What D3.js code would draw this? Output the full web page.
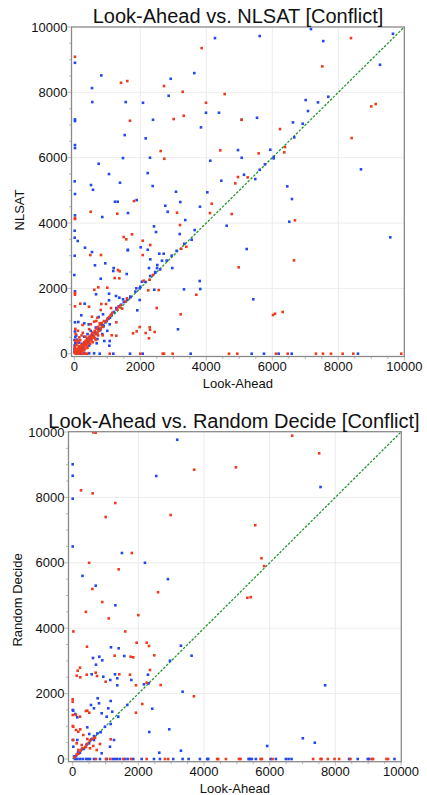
<!DOCTYPE html>
<html><head><meta charset="utf-8">
<script src="https://cdn.jsdelivr.net/npm/d3@7"></script>
<style>body{margin:0;background:#fff}svg{display:block}</style>
</head><body>
<svg id="c" width="427" height="795"></svg>
<script>
const ticks = [0, 2000, 4000, 6000, 8000, 10000];
const gridVals = [2000, 4000, 6000, 8000];

// Chart 1: Look-Ahead vs NLSAT
const title1 = "Look-Ahead vs. NLSAT [Conflict]";
const xLabel1 = "Look-Ahead";
const yLabel1 = "NLSAT";
const topRed = [
[20,9088],[1415,8293],[1606,8345],[1688,7130],[2718,8192],[3284,8017],[3012,7182],[3315,7283],[3860,9354],[4557,7947],[3990,7681],
[8384,9661],[7514,8794],[8999,7570],[9133,7641],[5072,7160],[6233,6876],[8405,6600],
[2618,6203],[2727,5967],[1809,4673],[4163,4590],[497,4345],[1303,4284],[20,4153],[20,4122],[3112,4315],[4112,4305],[4769,4275],[4424,6224],[4960,5407],[4878,5214],[3203,3938],[3394,3274],[1497,3571],[1748,3654],[1576,3501],[2073,3458],[2303,3326],
[5587,6132],[6384,6325],[6363,6163],[5254,5398],[6687,4082],
[485,3020],[809,3020],[2073,3020],[3242,3213],[4981,2644],[1324,2561],[1376,2521],[1224,2316],[1364,2307],[2385,2408],[2285,2264],[2103,2234],[2242,1940],[2557,1949],[3697,1805],[606,1958],[727,2032],[1000,2020],[20,1858],[20,1807],[1597,1695],[2497,1398],[3224,1205],[182,1530],[445,1438],[818,1521],[961,1521],[800,1337],[1112,1398],[1345,1429],[536,1132],[20,1450],[667,1001],[770,930],[1273,961],[1779,624],[1891,685],[1982,817],[2285,808],[2294,734],[2163,633],[2263,471],[2436,664],[1273,551],[1133,563],[860,563],
[385,0],[1073,0],[2000,0],[2679,0],[2718,0],[2981,0],[4688,0],[4939,0],
[6657,2858],[6021,1184],[6081,1224],[6314,1276],[6112,0],[6466,0],[7323,0],[7536,0],[7778,0],[8132,0],[8454,0],[9908,0],
[30,20],[50,80],[80,40],[100,120],[120,90],[150,160],[160,60],[180,210],[200,150],[220,260],[240,180],[260,300],[280,230],[300,350],[320,260],[340,390],[360,300],[380,420],[400,330],[420,480],[440,380],[460,520],[480,420],[500,560],[520,470],[540,620],[560,500],[580,650],[600,540],[620,700],[650,610],[680,760],[700,640],[720,820],[750,700],[780,880],[800,760],[830,940],[860,820],[900,1000],[950,980],[1000,1060],[1050,1120],[1100,1180],[1150,1250],[200,40],[300,100],[400,180],[60,260],[90,320],[120,400],[150,500],[70,150],[180,420],[220,560],[260,640],[340,520],[40,600],[110,700],[30,760],[250,880],[450,750],[500,900],[600,980],[700,1100],[380,240],[480,300],[560,350],[650,420],[10,30],[20,120],[15,200],[40,400],[100,20],[140,230],[330,160],[520,380],[620,470],[720,560],[150,80],[240,90],
[1300,1350],[1400,1480],[1550,1600],[1450,1380],[50,0],[150,0],[250,0],[330,0]
];
const topBlue = [
[20,8905],[818,8519],[536,8130],[545,7702],[1557,7702],[2082,7681],[20,7172],[20,7121],[2385,7160],[1527,6692],[2163,6591],[2921,8415],[2860,7895],[3636,8589],[4263,9660],[3990,7375],[4384,7375],[3839,6928],
[7172,9936],[5618,9722],[7545,9569],[9657,9792],[9263,8844],[7696,7864],[7011,7763],[7384,7693],[7081,7427],[5072,7160],[5536,7222],[6627,7081],[6921,7038],[6666,6622],
[20,6386],[20,6294],[1476,5988],[2294,5998],[739,5814],[1051,5499],[2224,5529],[12,5275],[506,5162],[567,5018],[1385,5233],[2375,5132],[20,4887],[3082,4957],[4030,4939],[1233,4651],[1315,4651],[1891,4703],[3212,4642],[2757,4529],[3809,4498],[1627,4305],[848,4183],[20,4235],[2830,4345],[3363,4091],[4960,6233],[4121,5906],[4454,5294],[4618,3917],[2415,3898],[2476,3724],[3194,3663],[3648,3785],[3557,3489],[3333,3366],[12,3764],[12,3550],[103,3449],[2012,3256],[324,3244],[2224,3182],[1627,3182],
[5939,6243],[5072,5998],[6042,6019],[6042,5979],[5778,5796],[5618,5630],[5142,5477],[5484,5346],[8687,5643],[6454,5122],[6596,4734],[6515,4039],[9575,3562],[5224,3204],
[536,3112],[1618,3164],[2576,3060],[2709,3060],[2303,2889],[0,2408],[12,2999],[627,2705],[939,2766],[1194,2622],[1182,2531],[1588,2439],[800,2295],[2263,2622],[2506,2622],[2454,2500],[2969,2622],[2051,2203],[1879,2001],[1982,2001],[2424,1958],[3800,2225],[3818,1980],[3324,1970],[20,1909],[658,1818],[1052,1836],[1052,1634],[1264,1766],[1364,1714],[1476,1665],[1697,1726],[1982,1643],[1909,1328],[3142,747],[315,1530],[1273,1398],[212,1175],[739,1123],[870,1205],[20,961],[121,970],[303,930],[436,900],[1073,900],[1073,389],[1061,245],[909,389],[679,318],[30,511],[30,318],
[182,0],[770,0],[1182,0],[1688,0],[2073,0],[3527,0],
[5424,1665],[5375,0],[5748,0],[6193,0],[6587,0],[8596,0],
[2515,2714],[2657,2846],[2450,2480],[2600,2580],[2800,2850],[2950,3000],[3100,3150],
[20,50],[60,100],[110,60],[140,190],[190,120],[230,300],[270,210],[310,340],[350,270],[390,440],[430,350],[470,500],[510,430],[550,580],[590,520],[640,650],[690,600],[740,760],[790,720],[840,880],[890,840],[940,960],[980,1000],[1020,1080],[1080,1100],[1130,1200],[1200,1280],[1280,1360],[1350,1450],[1420,1500],[1500,1580],[1600,1650],[1700,1750],[1850,1900],[2000,2050],[2150,2200],[2300,2380],[10,250],[30,330],[80,430],[60,560],[20,680],[150,340],[300,520],[400,600],[500,700],[650,800],[250,150],[450,250],[700,450],[850,600],[1000,700],[5,60],[5,150],[5,420],[70,10],[120,10],[200,10],[300,10],[450,10],[600,10]
];

// Chart 2: Look-Ahead vs Random Decide
const title2 = "Look-Ahead vs. Random Decide [Conflict]";
const xLabel2 = "Look-Ahead";
const yLabel2 = "Random Decide";
const botRed = [
[627,9990],[700,9980],[253,8217],[609,8125],[1297,7828],[1004,7400],[2983,7461],[3701,8847],[4971,8920],[6685,9887],[7507,9348],
[5560,7150],[5750,6140],[5830,5900],[5320,4930],[5420,4950],
[435,3434],[1948,3557],[2253,3557],[2323,3456],[2485,3171],[1765,3128],[1845,3110],[1278,3159],[222,2792],[152,2700],[122,2547],[231,2498],[3692,1917],
[20,3900],[400,4500],[600,5200],[900,4800],[1400,5800],[1800,6300],[2600,5100],[500,6000],[1100,4300],[1600,3900],[2000,4400],
[0,1826],[0,1752],[0,1346],[100,1346],[222,1294],[405,1468],[444,1477],[505,1416],[0,1009],[18,988],[100,887],[170,835],[231,908],[323,734],[444,612],[18,581],[122,480],[274,428],[405,376],[527,327],[627,398],[731,275],[831,459],[170,275],[1157,602],
[426,2578],[700,2639],[740,2538],[1004,2364],[1419,2590],[1744,2578],[1927,2254],[2253,2333],[2353,2722],[2679,2263],[2119,1682],[1927,1416],
[60,50],[120,140],[180,160],[240,260],[300,330],[380,360],[450,470],[520,560],[600,620],[680,650],
[709,0],[1014,0],[1135,0],[1540,0],[1775,0],[2253,0],[2810,0],[2910,0],[4432,0],
[4402,0],[4667,0],[5063,0],[5114,0],[5723,0],[5763,0],[6088,0],[7324,0],[7549,0],[7580,0],[7771,0],[7975,0],[8115,0],[8460,0],[9109,0],[9150,0],[9557,0],[9606,0]
];
const botBlue = [
[0,9012],[0,8663],[0,7960],[3184,9764],[2545,8654],[7549,8318],[7689,2254],[7010,633],[7375,498],[5924,398],[1166,3416],[1400,3385],[1571,3150],[618,3089],[810,3128],[901,3018],[709,2884],[578,2590],[3348,2058],
[0,6500],[300,5600],[700,5300],[1500,6300],[2200,6000],[2900,5500],[1300,4700],
[932,2517],[1145,2416],[1288,2590],[1358,2468],[1784,2416],[1358,2254],[2313,2315],[2170,2284],[2292,2578],[2962,3006],[3297,3465],[3622,3159],[2423,1538],[1662,1651],[1157,1774],
[0,1498],[18,1477],[79,1376],[140,1275],[557,1651],[648,1550],[761,1856],[801,1703],[883,1398],[1084,1550],[1035,1294],[1205,1447],[1388,1294],[1157,1070],[983,988],[444,969],[505,765],[648,581],[883,174],[1135,376],[1257,581],[140,581],[0,581],[18,376],
[2332,826],[2941,908],[2637,193],[3297,254],
[40,80],[100,90],[160,200],[220,190],[280,300],[340,310],[420,440],[500,480],[560,600],[650,700],[750,780],[850,820],
[70,0],[140,0],[222,0],[304,0],[405,0],[466,0],[527,0],[648,0],[831,0],[1035,0],[1218,0],[1288,0],[1358,0],[1440,0],[1592,0],[1674,0],[1845,0],[2100,0],[2475,0],[2657,0],[3062,0],[3348,0],[3531,0],[3875,0],[4128,0],
[4097,0],[5357,0],[5397,0],[5458,0],[5580,0],[6027,0],[6189,0],[6493,0],[6575,0],[6666,0],[8419,0],[8683,0],[8987,0],[9027,0],[9801,0]
];

const svg = d3.select("#c");

function drawChart(cfg) {
  const g = svg.append("g");
  const x = d3.scaleLinear().domain([0, 10000]).range([cfg.x0, cfg.x1]);
  const y = d3.scaleLinear().domain([0, 10000]).range([cfg.y0, cfg.y1]);
  g.selectAll(".gx").data(gridVals).enter().append("line")
    .attr("x1", d => x(d)).attr("x2", d => x(d)).attr("y1", cfg.fT).attr("y2", cfg.fB)
    .attr("stroke", "#ececec").attr("stroke-width", 1);
  g.selectAll(".gy").data(gridVals).enter().append("line")
    .attr("y1", d => y(d)).attr("y2", d => y(d)).attr("x1", cfg.fL).attr("x2", cfg.fR)
    .attr("stroke", "#ececec").attr("stroke-width", 1);
  const tv = d3.range(0, 10001, 500);
  g.selectAll(".tx").data(tv).enter().append("line")
    .attr("x1", d => x(d)).attr("x2", d => x(d)).attr("y1", cfg.fB).attr("y2", d => cfg.fB + (d % 2000 === 0 ? 4 : 2.5))
    .attr("stroke", "#aaa").attr("stroke-width", 0.8);
  g.selectAll(".ty").data(tv).enter().append("line")
    .attr("y1", d => y(d)).attr("y2", d => y(d)).attr("x1", cfg.fL).attr("x2", d => cfg.fL - (d % 2000 === 0 ? 4 : 2.5))
    .attr("stroke", "#aaa").attr("stroke-width", 0.8);
  g.append("line").attr("x1", x(0)).attr("y1", y(0)).attr("x2", x(10000)).attr("y2", y(10000))
    .attr("stroke", "#22962a").attr("stroke-width", 1.3).attr("stroke-dasharray", "2.5,1.5");
  const drawPts = (data, color) => g.selectAll(null).data(data).enter().append("rect")
    .attr("x", d => x(d[0]) - 1.3).attr("y", d => y(d[1]) - 1.3)
    .attr("width", 2.6).attr("height", 2.6).attr("fill", color);
  drawPts(cfg.blue, "#2448f0");
  drawPts(cfg.red, "#f03a1e");
  g.append("rect").attr("x", cfg.fL).attr("y", cfg.fT).attr("width", cfg.fR - cfg.fL).attr("height", cfg.fB - cfg.fT)
    .attr("fill", "none").attr("stroke", "#8a8a8a").attr("stroke-width", 1.3);
  g.selectAll(".lx").data(ticks).enter().append("text")
    .attr("x", d => x(d)).attr("y", cfg.fB + 14).attr("text-anchor", "middle")
    .attr("font-family", "Liberation Sans, Arial, sans-serif").attr("font-size", 13).attr("fill", "#111").text(d => d);
  g.selectAll(".ly").data(ticks).enter().append("text")
    .attr("x", cfg.fL - 4).attr("y", d => y(d) + 4.5).attr("text-anchor", "end")
    .attr("font-family", "Liberation Sans, Arial, sans-serif").attr("font-size", 13).attr("fill", "#111").text(d => d);
  g.append("text").attr("x", (cfg.fL + cfg.fR) / 2).attr("y", cfg.fB + 31).attr("text-anchor", "middle")
    .attr("font-family", "Liberation Sans, Arial, sans-serif").attr("font-size", 13).attr("fill", "#111").text(cfg.xLabel);
  g.append("text").attr("transform", `translate(${cfg.yLabX},${cfg.yLabY}) rotate(-90)`).attr("text-anchor", "middle")
    .attr("font-family", "Liberation Sans, Arial, sans-serif").attr("font-size", 13).attr("fill", "#111").text(cfg.yLabel);
  g.append("text").attr("x", cfg.tX).attr("y", cfg.tY).attr("text-anchor", "middle")
    .attr("font-family", "Liberation Sans, Arial, sans-serif").attr("font-size", cfg.tSize).attr("fill", "#111").text(cfg.title);
}

drawChart({x0: 74.3, x1: 404.3, y0: 353.7, y1: 27, fL: 71.5, fR: 404.3, fT: 27, fB: 356.5,
  red: topRed, blue: topBlue, title: title1, xLabel: xLabel1, yLabel: yLabel1,
  yLabX: 24, yLabY: 210, tX: 238, tY: 23, tSize: 20});
drawChart({x0: 72.7, x1: 401, y0: 759, y1: 432, fL: 68.5, fR: 401.3, fT: 431.7, fB: 761.7,
  red: botRed, blue: botBlue, title: title2, xLabel: xLabel2, yLabel: yLabel2,
  yLabX: 22, yLabY: 600, tX: 234, tY: 428, tSize: 20});
</script>
</body></html>
